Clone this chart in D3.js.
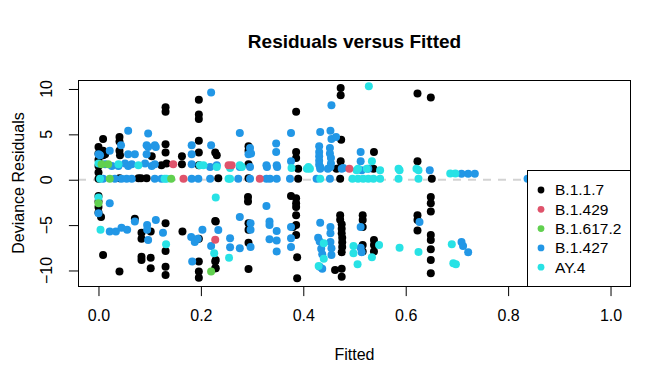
<!DOCTYPE html>
<html>
<head>
<meta charset="utf-8">
<script src="https://cdn.jsdelivr.net/npm/d3@7"></script>
<style>
  body { margin: 0; background: #fff; }
  svg { display: block; font-family: 'Liberation Sans', Arial, sans-serif; }
</style>
</head>
<body>
<div class="chart"></div>
<script>
// [fitted, deviance residual]
const b117 = [
  [0.131, 8.0], [0.131, 7.5], [0.196, 8.8], [0.196, 7.2], [0.196, 6.7], [0.473, 10.1], [0.473, 9.3], [0.386, 7.5],
  [0.623, 9.5], [0.649, 9.05], [0.009, 4.5], [0.041, 4.7], [0.041, 4.2], [0.131, 3.9], [0.131, 3.0], [0.196, 4.3],
  [0.196, 3.0], [0.228, 3.0], [0.009, 3.2], [0.009, 2.7], [0.041, 3.2], [0.293, 3.7], [0.293, 3.2], [0.386, 3.05],
  [0.386, 2.4], [0.474, 4.4], [0.473, 2.05], [0.473, 1.35], [0.538, 3.05], [0.623, 2.05], [0.0, 3.6], [0.0, 2.9],
  [0.0, 2.2], [0.0, 1.5], [0.0, 0.8], [0.0, 0.1], [0.013, 2.8], [0.042, 2.7], [0.104, 2.6], [0.163, 2.6],
  [0.231, 2.7], [0.123, 1.6], [0.133, 1.8], [0.163, 1.7], [0.293, 1.7], [0.196, 1.6], [0.041, 0.15], [0.078, 0.15],
  [0.083, 0.15], [0.094, 0.15], [0.234, 0.15], [0.293, 0.15], [0.39, 1.2], [0.465, 1.2], [0.537, 1.2], [0.39, 0.1],
  [0.472, 0.1], [0.651, 0.1],
  [0.0, -1.8], [0.0, -2.4], [0.0, -3.0], [0.0, -3.6], [0.005, -4.1], [0.071, -4.3], [0.131, -4.8], [0.084, -5.85],
  [0.084, -6.5], [0.102, -5.7], [0.164, -5.7], [0.131, -7.85], [0.196, -6.5], [0.228, -4.55], [0.009, -8.3],
  [0.084, -8.5], [0.084, -8.85], [0.102, -8.6], [0.131, -9.6], [0.131, -10.5], [0.102, -9.75], [0.041, -10.1],
  [0.196, -9.0], [0.196, -10.1], [0.196, -10.8], [0.228, -9.0], [0.228, -9.75], [0.292, -1.9], [0.292, -2.4],
  [0.229, -4.6], [0.293, -4.8], [0.293, -5.5], [0.293, -6.95], [0.293, -9.85], [0.229, -8.85], [0.229, -9.75],
  [0.376, -1.8], [0.386, -2.05], [0.386, -2.6], [0.386, -3.0], [0.386, -3.9], [0.386, -5.0], [0.38, -5.2],
  [0.386, -6.1], [0.388, -8.55], [0.388, -10.85], [0.472, -3.9], [0.472, -4.4], [0.475, -4.9], [0.475, -5.4],
  [0.475, -5.9], [0.476, -6.4], [0.476, -6.9], [0.476, -7.4], [0.475, -8.0], [0.475, -9.8], [0.475, -10.7],
  [0.462, -9.95], [0.516, -3.9], [0.516, -4.45], [0.516, -5.2], [0.516, -7.2], [0.516, -7.9], [0.538, -6.65],
  [0.538, -7.2], [0.538, -7.9], [0.623, -3.9], [0.623, -4.45], [0.623, -5.6], [0.649, -1.9], [0.649, -2.6],
  [0.649, -3.5], [0.649, -6.1], [0.649, -6.65], [0.649, -7.65], [0.649, -8.85], [0.649, -10.3],
];

const b1427 = [
  [0.22, 9.6], [0.058, 5.4], [0.097, 5.1], [0.044, 3.8], [0.097, 3.6], [0.112, 3.6], [0.22, 3.8], [0.022, 3.2],
  [0.003, 2.7], [0.455, 8.2], [0.276, 5.15], [0.376, 5.15], [0.433, 5.25], [0.453, 5.4], [0.455, 4.5], [0.464, 4.7],
  [0.296, 3.5], [0.298, 2.9], [0.347, 4.0], [0.347, 3.05], [0.376, 2.05], [0.431, 3.7], [0.431, 3.05], [0.431, 2.6],
  [0.431, 2.1], [0.431, 1.65], [0.452, 3.5], [0.452, 2.9], [0.454, 2.4], [0.454, 1.8], [0.512, 3.05], [0.512, 2.05],
  [0.094, 3.8], [0.11, 3.8], [0.182, 3.8], [0.0, 2.8], [0.058, 2.8], [0.071, 2.8], [0.094, 2.8], [0.182, 2.8],
  [0.293, 2.8], [0.013, 1.7], [0.026, 1.5], [0.039, 1.5], [0.052, 1.8], [0.058, 1.5], [0.065, 1.7], [0.091, 1.8],
  [0.104, 1.5], [0.11, 1.7], [0.182, 1.7], [0.231, 1.6], [0.328, 1.6], [0.348, 1.6], [0.218, 1.4], [0.276, 1.4],
  [0.296, 1.4], [0.329, 1.4], [0.349, 1.4], [0.433, 1.4], [0.453, 1.4], [0.478, 1.3], [0.433, 1.2], [0.448, 1.2],
  [0.475, 1.2], [0.514, 1.05], [0.527, 1.2], [0.647, 1.05], [0.709, 0.65], [0.722, 0.65], [0.735, 0.65], [0.838, 0.1],
  [0.009, 0.1], [0.032, 0.1], [0.045, 0.1], [0.055, 0.1], [0.065, 0.1], [0.11, 0.1], [0.123, 0.1], [0.182, 0.1],
  [0.195, 0.1], [0.218, 0.1], [0.273, 0.1], [0.296, 0.1], [0.328, 0.1], [0.335, 0.1], [0.348, 0.1], [0.374, 0.1],
  [0.426, 0.1], [0.452, 0.1],
  [0.0, -3.7], [0.022, -2.6], [0.071, -4.6], [0.112, -4.45], [0.095, -5.0], [0.095, -5.5], [0.022, -5.7],
  [0.034, -5.7], [0.045, -5.3], [0.056, -5.5], [0.126, -5.85], [0.097, -6.65], [0.181, -6.3], [0.188, -6.85],
  [0.194, -6.5], [0.203, -5.5], [0.22, -7.3], [0.183, -9.0], [0.328, -2.9], [0.276, -4.1], [0.234, -5.55],
  [0.297, -4.8], [0.297, -5.5], [0.297, -7.4], [0.334, -4.6], [0.334, -5.0], [0.348, -5.65], [0.334, -6.55],
  [0.348, -6.7], [0.348, -7.9], [0.257, -6.45], [0.257, -7.45], [0.276, -7.55], [0.376, -5.2], [0.376, -6.45],
  [0.376, -7.4], [0.433, -4.75], [0.429, -6.4], [0.432, -6.8], [0.435, -7.6], [0.437, -8.2], [0.432, -9.6],
  [0.437, -9.8], [0.453, -5.2], [0.453, -5.9], [0.453, -6.85], [0.455, -7.55], [0.455, -8.3], [0.512, -5.2],
  [0.512, -7.5], [0.514, -8.0], [0.627, -4.65], [0.709, -6.85], [0.712, -7.3], [0.722, -8.0],
];

const ay4 = [
  [0.528, 10.3], [0.534, 2.05], [0.0, 1.8], [0.039, 1.7], [0.078, 1.6], [0.198, 1.6], [0.205, 1.6], [0.276, 1.6],
  [0.231, 1.4], [0.257, 1.3], [0.28, 1.4], [0.377, 1.3], [0.41, 1.4], [0.407, 1.2], [0.413, 1.2], [0.507, 1.2],
  [0.524, 1.2], [0.586, 1.2], [0.621, 1.2], [0.504, 1.05], [0.55, 1.05], [0.588, 1.05], [0.625, 1.05], [0.687, 0.7],
  [0.697, 0.7], [0.003, 0.1], [0.129, 0.1], [0.133, 0.1], [0.254, 0.1], [0.257, 0.1], [0.433, 0.1], [0.496, 0.1],
  [0.507, 0.1], [0.517, 0.1], [0.527, 0.1], [0.537, 0.1], [0.55, 0.1], [0.586, 0.1], [0.625, 0.1],
  [0.0, -1.96], [0.004, -5.5], [0.132, -7.1], [0.226, -8.1], [0.229, -1.95], [0.255, -8.6], [0.44, -7.0],
  [0.44, -8.7], [0.43, -9.5], [0.498, -7.3], [0.498, -8.1], [0.506, -9.3], [0.534, -8.55], [0.548, -7.2],
  [0.588, -7.5], [0.625, -7.95], [0.69, -7.1], [0.693, -9.2], [0.698, -9.3],
];

const b1429 = [[0.228, -6.6], [0.146, 1.7], [0.254, 1.6], [0.26, 1.6], [0.49, 1.2], [0.166, 0.1], [0.315, 0.1]];

const b16172 = [[0.0, -2.6], [0.22, -10.1], [0.006, 1.7], [0.019, 1.7], [0.022, 0.1], [0.142, 0.1]];

const variants = ['B.1.1.7', 'B.1.429', 'B.1.617.2', 'B.1.427', 'AY.4'];
const colors = ['#000000', '#DF536B', '#61D04F', '#2297E6', '#28E2E5'];
const xTicks = [0, 0.2, 0.4, 0.6, 0.8, 1.0];
const yTicks = [-10, -5, 0, 5, 10];

// draw order on top of each other: black first, greens last
const layers = [
  {data: b117, color: colors[0]},
  {data: b1427, color: colors[3]},
  {data: ay4, color: colors[4]},
  {data: b1429, color: colors[1]},
  {data: b16172, color: colors[2]},
];

const width = 672;
const height = 384;
const margin = {top: 80, right: 41, bottom: 98, left: 78};

const svg = d3.select('.chart').append('svg').attr('width', width).attr('height', height);

const x = d3.scaleLinear().domain([-0.04, 1.04]).range([margin.left, width - margin.right]);
const y = d3.scaleLinear().domain([-11.71, 10.99]).range([height - margin.bottom, margin.top]);

// zero reference line
svg
  .append('line')
  .attr('x1', margin.left)
  .attr('x2', width - margin.right)
  .attr('y1', y(0))
  .attr('y2', y(0))
  .attr('stroke', '#d3d3d3')
  .attr('stroke-width', 2)
  .attr('stroke-dasharray', '8,7');

layers.forEach((layer) => {
  svg
    .append('g')
    .selectAll('circle')
    .data(layer.data)
    .join('circle')
    .attr('cx', (d) => x(d[0]))
    .attr('cy', (d) => y(d[1]))
    .attr('r', 4)
    .attr('fill', layer.color);
});

// axes, R style
const xAxis = d3.axisBottom(x).tickValues(xTicks).tickFormat(d3.format('.1f')).tickSize(9.6).tickPadding(14);
const gx = svg
  .append('g')
  .attr('transform', `translate(0,${height - margin.bottom + 0.5})`)
  .call(xAxis);
gx.select('.domain').remove();
gx.selectAll('text').attr('font-size', 16).attr('fill', '#000').attr('font-family', 'Liberation Sans, Arial');

const yAxis = d3.axisLeft(y).tickValues(yTicks).tickSize(9.6).tickFormat(d3.format('d'));
const gy = svg
  .append('g')
  .attr('transform', `translate(${margin.left + 0.5},0)`)
  .call(yAxis);
gy.select('.domain').remove();
gy.selectAll('text')
  .attr('font-size', 16)
  .attr('fill', '#000')
  .attr('font-family', 'Liberation Sans, Arial')
  .attr('text-anchor', 'middle')
  .attr('dy', null)
  .attr('x', null)
  .attr('transform', (d) => `translate(-31,${y(d)}) rotate(-90)`)
  .attr('y', 0)
  .attr('dominant-baseline', 'middle');
gy.selectAll('.tick').attr('transform', null);
gy.selectAll('.tick line').attr('transform', (d) => `translate(0,${y(d) + 0.5})`);

// box around plot
svg
  .append('rect')
  .attr('x', margin.left + 0.5)
  .attr('y', margin.top + 0.5)
  .attr('width', width - margin.left - margin.right - 1)
  .attr('height', height - margin.top - margin.bottom)
  .attr('fill', 'none')
  .attr('stroke', '#000');

// legend, bottom right
const legend = svg.append('g');
const lx = 527;
const ly = 170;
legend
  .append('rect')
  .attr('x', lx + 0.5)
  .attr('y', ly + 0.5)
  .attr('width', width - margin.right - lx - 1)
  .attr('height', height - margin.bottom - ly)
  .attr('fill', '#fff')
  .attr('stroke', '#000');

const item = legend
  .selectAll('g')
  .data(variants)
  .join('g')
  .attr('transform', (d, i) => `translate(${lx},${ly + 20 + i * 19.3})`);
item.append('circle').attr('cx', 14).attr('cy', 0).attr('r', 3.4).attr('fill', (d, i) => colors[i]);
item
  .append('text')
  .attr('x', 28)
  .attr('y', 0)
  .attr('dy', '0.35em')
  .attr('font-size', 15.5)
  .text((d) => d);

// titles
svg
  .append('text')
  .attr('x', (margin.left + width - margin.right) / 2)
  .attr('y', 48)
  .attr('text-anchor', 'middle')
  .attr('font-size', 19)
  .attr('font-weight', 'bold')
  .text('Residuals versus Fitted');

svg
  .append('text')
  .attr('x', (margin.left + width - margin.right) / 2)
  .attr('y', 360)
  .attr('text-anchor', 'middle')
  .attr('font-size', 16)
  .text('Fitted');

svg
  .append('text')
  .attr('transform', `translate(24,${(margin.top + height - margin.bottom) / 2}) rotate(-90)`)
  .attr('text-anchor', 'middle')
  .attr('font-size', 16)
  .text('Deviance Residuals');
</script>
</body>
</html>
